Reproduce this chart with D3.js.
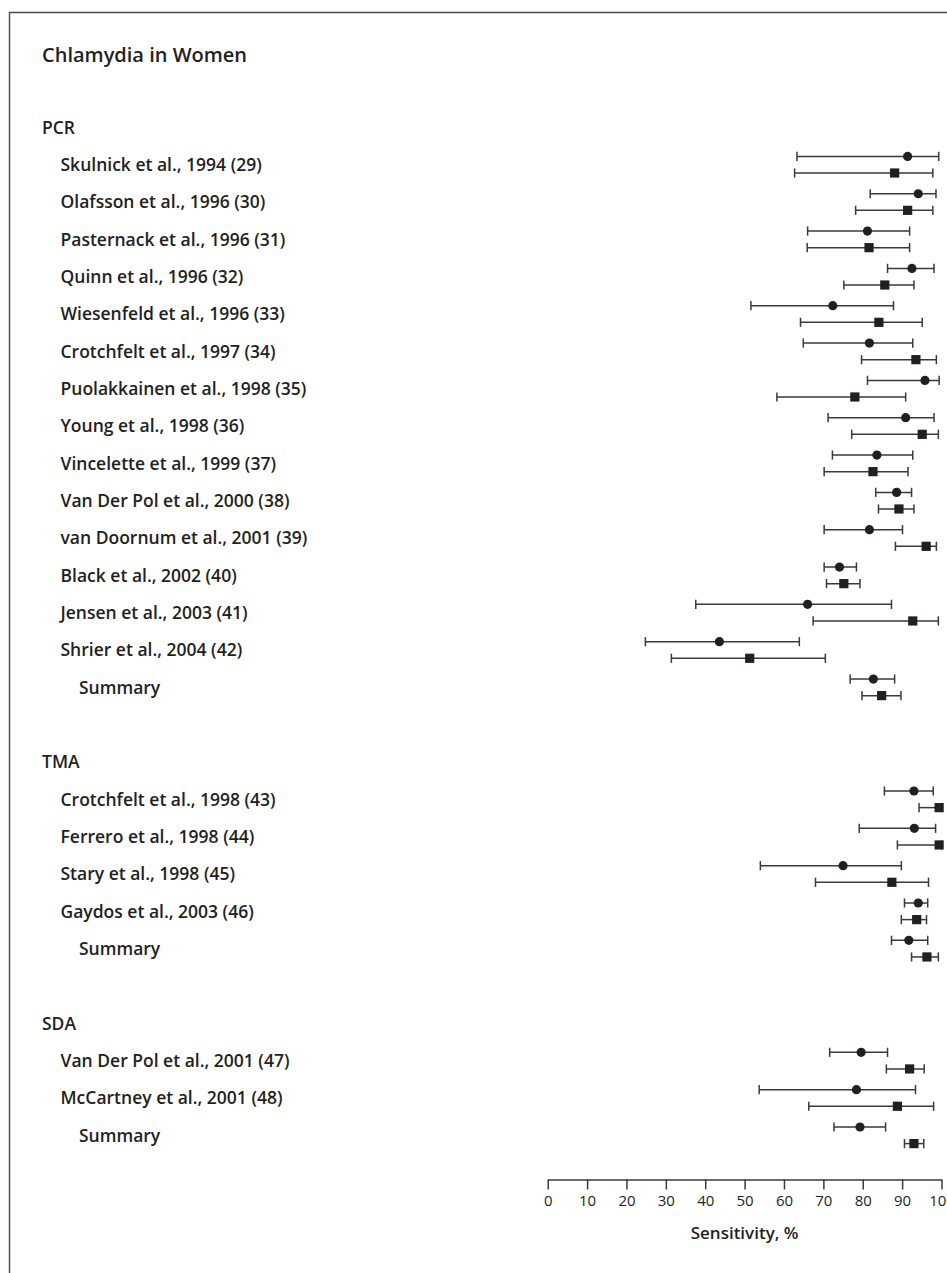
<!DOCTYPE html>
<html>
<head>
<meta charset="utf-8">
<script src="https://cdn.jsdelivr.net/npm/d3@7"></script>
<style>
  html, body { margin: 0; padding: 0; background: #fff; }
  svg { display: block; }
  text { font-family: "Open Sans", "Noto Sans", sans-serif; fill: #231f20; }
</style>
</head>
<body>
<svg id="chart" width="947" height="1273"></svg>
<script>
// ---- Data ----
const titleText = "Chlamydia in Women";
const groupNames = ["PCR", "TMA", "SDA"];
const rowLabels = [
  "Skulnick et al., 1994 (29)", "Olafsson et al., 1996 (30)", "Pasternack et al., 1996 (31)",
  "Quinn et al., 1996 (32)", "Wiesenfeld et al., 1996 (33)", "Crotchfelt et al., 1997 (34)",
  "Puolakkainen et al., 1998 (35)", "Young et al., 1998 (36)", "Vincelette et al., 1999 (37)",
  "Van Der Pol et al., 2000 (38)", "van Doornum et al., 2001 (39)", "Black et al., 2002 (40)",
  "Jensen et al., 2003 (41)", "Shrier et al., 2004 (42)", "Summary",
  "Crotchfelt et al., 1998 (43)", "Ferrero et al., 1998 (44)", "Stary et al., 1998 (45)",
  "Gaydos et al., 2003 (46)", "Summary",
  "Van Der Pol et al., 2001 (47)", "McCartney et al., 2001 (48)", "Summary"
];
const rowGroup = [
  "PCR","PCR","PCR","PCR","PCR","PCR","PCR","PCR","PCR","PCR","PCR","PCR","PCR","PCR","PCR",
  "TMA","TMA","TMA","TMA","TMA",
  "SDA","SDA","SDA"
];
// circle series (estimate, lower, upper)
const circleEst = [91.4, 94.1, 81.2, 92.5, 72.4, 81.7, 95.8, 90.9, 83.6, 88.6, 81.7, 74.1, 66.0, 43.6, 82.7,
                   93.0, 93.1, 75.0, 94.1, 91.7,
                   79.6, 78.4, 79.3];
const circleLo  = [63.3, 81.9, 66.0, 86.3, 51.6, 64.9, 81.2, 71.2, 72.3, 83.3, 70.2, 70.2, 37.6, 24.8, 76.8,
                   85.5, 79.1, 54.0, 90.6, 87.3,
                   71.6, 53.7, 72.7];
const circleHi  = [99.3, 98.6, 91.9, 98.1, 87.8, 92.7, 99.4, 98.1, 92.7, 92.4, 90.1, 78.4, 87.3, 63.9, 88.1,
                   97.9, 98.5, 89.8, 96.5, 96.5,
                   86.3, 93.4, 85.8];
// square series (estimate, lower, upper)
const squareEst = [88.1, 91.4, 81.6, 85.6, 84.1, 93.5, 78.0, 95.1, 82.6, 89.2, 96.1, 75.2, 92.7, 51.3, 84.8,
                   99.4, 99.4, 87.4, 93.7, 96.3,
                   91.9, 88.8, 93.0];
const squareLo  = [62.7, 78.2, 65.9, 75.2, 64.2, 79.7, 58.2, 77.2, 70.2, 84.0, 88.3, 70.8, 67.4, 31.4, 79.8,
                   94.3, 88.8, 68.0, 89.8, 92.4,
                   86.0, 66.3, 90.6];
const squareHi  = [97.8, 97.8, 91.9, 93.0, 95.1, 98.7, 90.9, 99.2, 91.5, 93.0, 98.7, 79.3, 99.2, 70.5, 89.7,
                   100, 100, 96.7, 96.2, 99.2,
                   95.6, 98.0, 95.5];
const xTicks = [0, 10, 20, 30, 40, 50, 60, 70, 80, 90, 100];
const xTitle = "Sensitivity, %";

// ---- Layout ----
const svg = d3.select("#chart");
const ink = "#231f20";
const lineCol = "#3a3a3a";

// frame (top and left rules)
svg.append("line").attr("x1", 9).attr("x2", 947).attr("y1", 12.5).attr("y2", 12.5)
  .attr("stroke", "#4a4a4a").attr("stroke-width", 1.4);
svg.append("line").attr("x1", 9.5).attr("x2", 9.5).attr("y1", 12).attr("y2", 1273)
  .attr("stroke", "#4a4a4a").attr("stroke-width", 1.4);

svg.append("text").attr("x", 42).attr("y", 62)
  .attr("font-size", 20).attr("font-weight", 600).text(titleText);

// build row slots: header, items, blank between groups
const rows = [];
let slot = -1;
groupNames.forEach((g, gi) => {
  if (gi > 0) slot += 1; // blank row
  rows.push({ type: "header", label: g, slot: slot });
  slot += 1;
  rowLabels.forEach((lab, i) => {
    if (rowGroup[i] !== g) return;
    rows.push({ type: lab === "Summary" ? "summary" : "study", label: lab, slot: slot, i: i });
    slot += 1;
  });
});

const y = d3.scaleLinear().domain([0, 26]).range([164.7, 1135.3]);
const x = d3.scaleLinear().domain([0, 100]).range([547.7, 941.5]);

// labels
svg.append("g").selectAll("text").data(rows).join("text")
  .attr("x", d => d.type === "header" ? 42 : d.type === "summary" ? 79 : 60.5)
  .attr("y", d => y(d.slot))
  .attr("dy", "0.36em")
  .attr("font-size", 17.5)
  .attr("font-weight", 600)
  .text(d => d.label);

const items = rows.filter(d => d.type !== "header");
const off = 8.3, capH = 4.6;

function drawSeries(est, lo, hi, dy, shape) {
  const g = svg.append("g");
  const rg = g.selectAll("g").data(items).join("g")
    .attr("transform", d => `translate(0,${y(d.slot) + dy})`);
  rg.append("line").attr("x1", d => x(lo[d.i])).attr("x2", d => x(hi[d.i]))
    .attr("stroke", lineCol).attr("stroke-width", 1.5);
  rg.append("line").attr("x1", d => x(lo[d.i])).attr("x2", d => x(lo[d.i]))
    .attr("y1", -capH).attr("y2", capH).attr("stroke", lineCol).attr("stroke-width", 1.5);
  rg.append("line").attr("x1", d => x(hi[d.i])).attr("x2", d => x(hi[d.i]))
    .attr("y1", -capH).attr("y2", capH).attr("stroke", lineCol).attr("stroke-width", 1.5);
  if (shape === "circle") {
    rg.append("circle").attr("cx", d => x(est[d.i])).attr("cy", 0).attr("r", 4.6).attr("fill", ink);
  } else {
    rg.append("rect").attr("x", d => x(est[d.i]) - 4.6).attr("y", -4.6)
      .attr("width", 9.2).attr("height", 9.2).attr("fill", ink);
  }
}
drawSeries(circleEst, circleLo, circleHi, -off, "circle");
drawSeries(squareEst, squareLo, squareHi, off, "square");

// axis
const axis = d3.axisBottom(x).tickValues(xTicks).tickSize(10).tickSizeOuter(0).tickPadding(6);
const ag = svg.append("g").attr("transform", "translate(0,1179.5)").call(axis);
ag.select(".domain").attr("stroke", lineCol).attr("stroke-width", 1.5);
ag.selectAll(".tick line").attr("stroke", lineCol).attr("stroke-width", 1.5);
ag.selectAll(".tick text").attr("font-size", 15).attr("font-family", "\"Open Sans\", sans-serif")
  .attr("fill", "#333");

svg.append("text").attr("x", x(50)).attr("y", 1239).attr("text-anchor", "middle")
  .attr("font-size", 17).attr("font-weight", 600).text(xTitle);
</script>
</body>
</html>
